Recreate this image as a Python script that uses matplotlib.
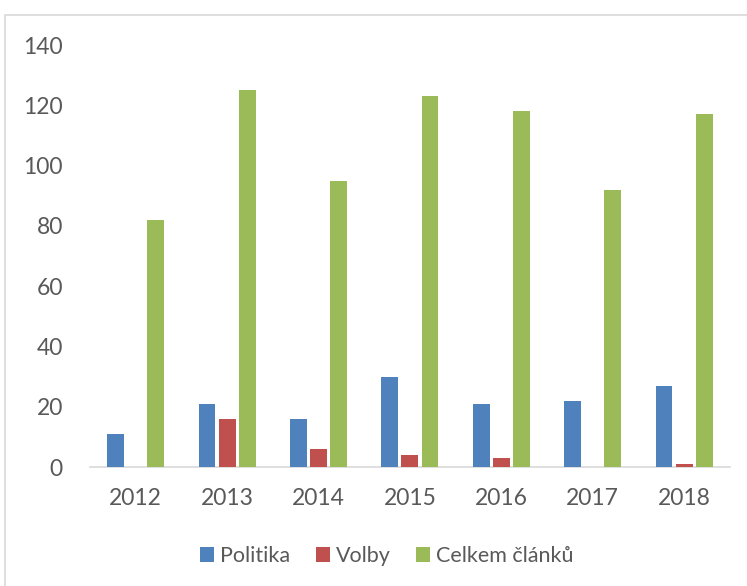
import matplotlib
matplotlib.use('Agg')
import matplotlib.pyplot as plt
import numpy as np
from matplotlib.patches import Rectangle

# Data
years = ['2012', '2013', '2014', '2015', '2016', '2017', '2018']
politika = [11, 21, 16, 30, 21, 22, 27]
volby = [0, 16, 6, 4, 3, 0, 1]
celkem = [82, 125, 95, 123, 118, 92, 117]

series_names = ['Politika', 'Volby', 'Celkem článků']
colors = ['#4F81BD', '#C0504D', '#9BBB59']

plt.rcParams['font.family'] = ['Lato', 'DejaVu Sans']

fig = plt.figure(figsize=(7.47, 5.86), dpi=100)
ax = fig.add_axes([0.1205, 0.203, 0.8565, 0.72])

# outer chart border (like an Excel chart area)
fig.patches.append(Rectangle((5 / 747, -0.1), 1.1, 1 - 15 / 586 + 0.1,
                             transform=fig.transFigure, fill=False,
                             edgecolor='#D9D9D9', linewidth=1.2))

x = np.arange(len(years))
step = 0.22
width = 0.185
for i, (vals, name, col) in enumerate(zip([politika, volby, celkem], series_names, colors)):
    ax.bar(x + (i - 1) * step, vals, width=width, color=col, label=name, zorder=3)

ax.set_xlim(-0.5, len(years) - 0.5)
ax.set_ylim(0, 140)
ax.set_yticks(range(0, 141, 20))
ax.set_xticks(x)
ax.set_xticklabels(years)

for s in ['top', 'right', 'left']:
    ax.spines[s].set_visible(False)
ax.spines['bottom'].set_color('#D9D9D9')
ax.spines['bottom'].set_linewidth(1.2)
ax.tick_params(axis='both', length=0, labelsize=16.5, colors='#595959')
ax.tick_params(axis='y', pad=19.5)
ax.tick_params(axis='x', pad=15)

ax.legend(loc='center', bbox_to_anchor=(0.464, -0.211), ncol=3, frameon=False,
          fontsize=15.5, labelcolor='#595959', handlelength=0.65, handleheight=0.65,
          handletextpad=0.28, columnspacing=1.2)

plt.savefig('out.png', dpi=100)
